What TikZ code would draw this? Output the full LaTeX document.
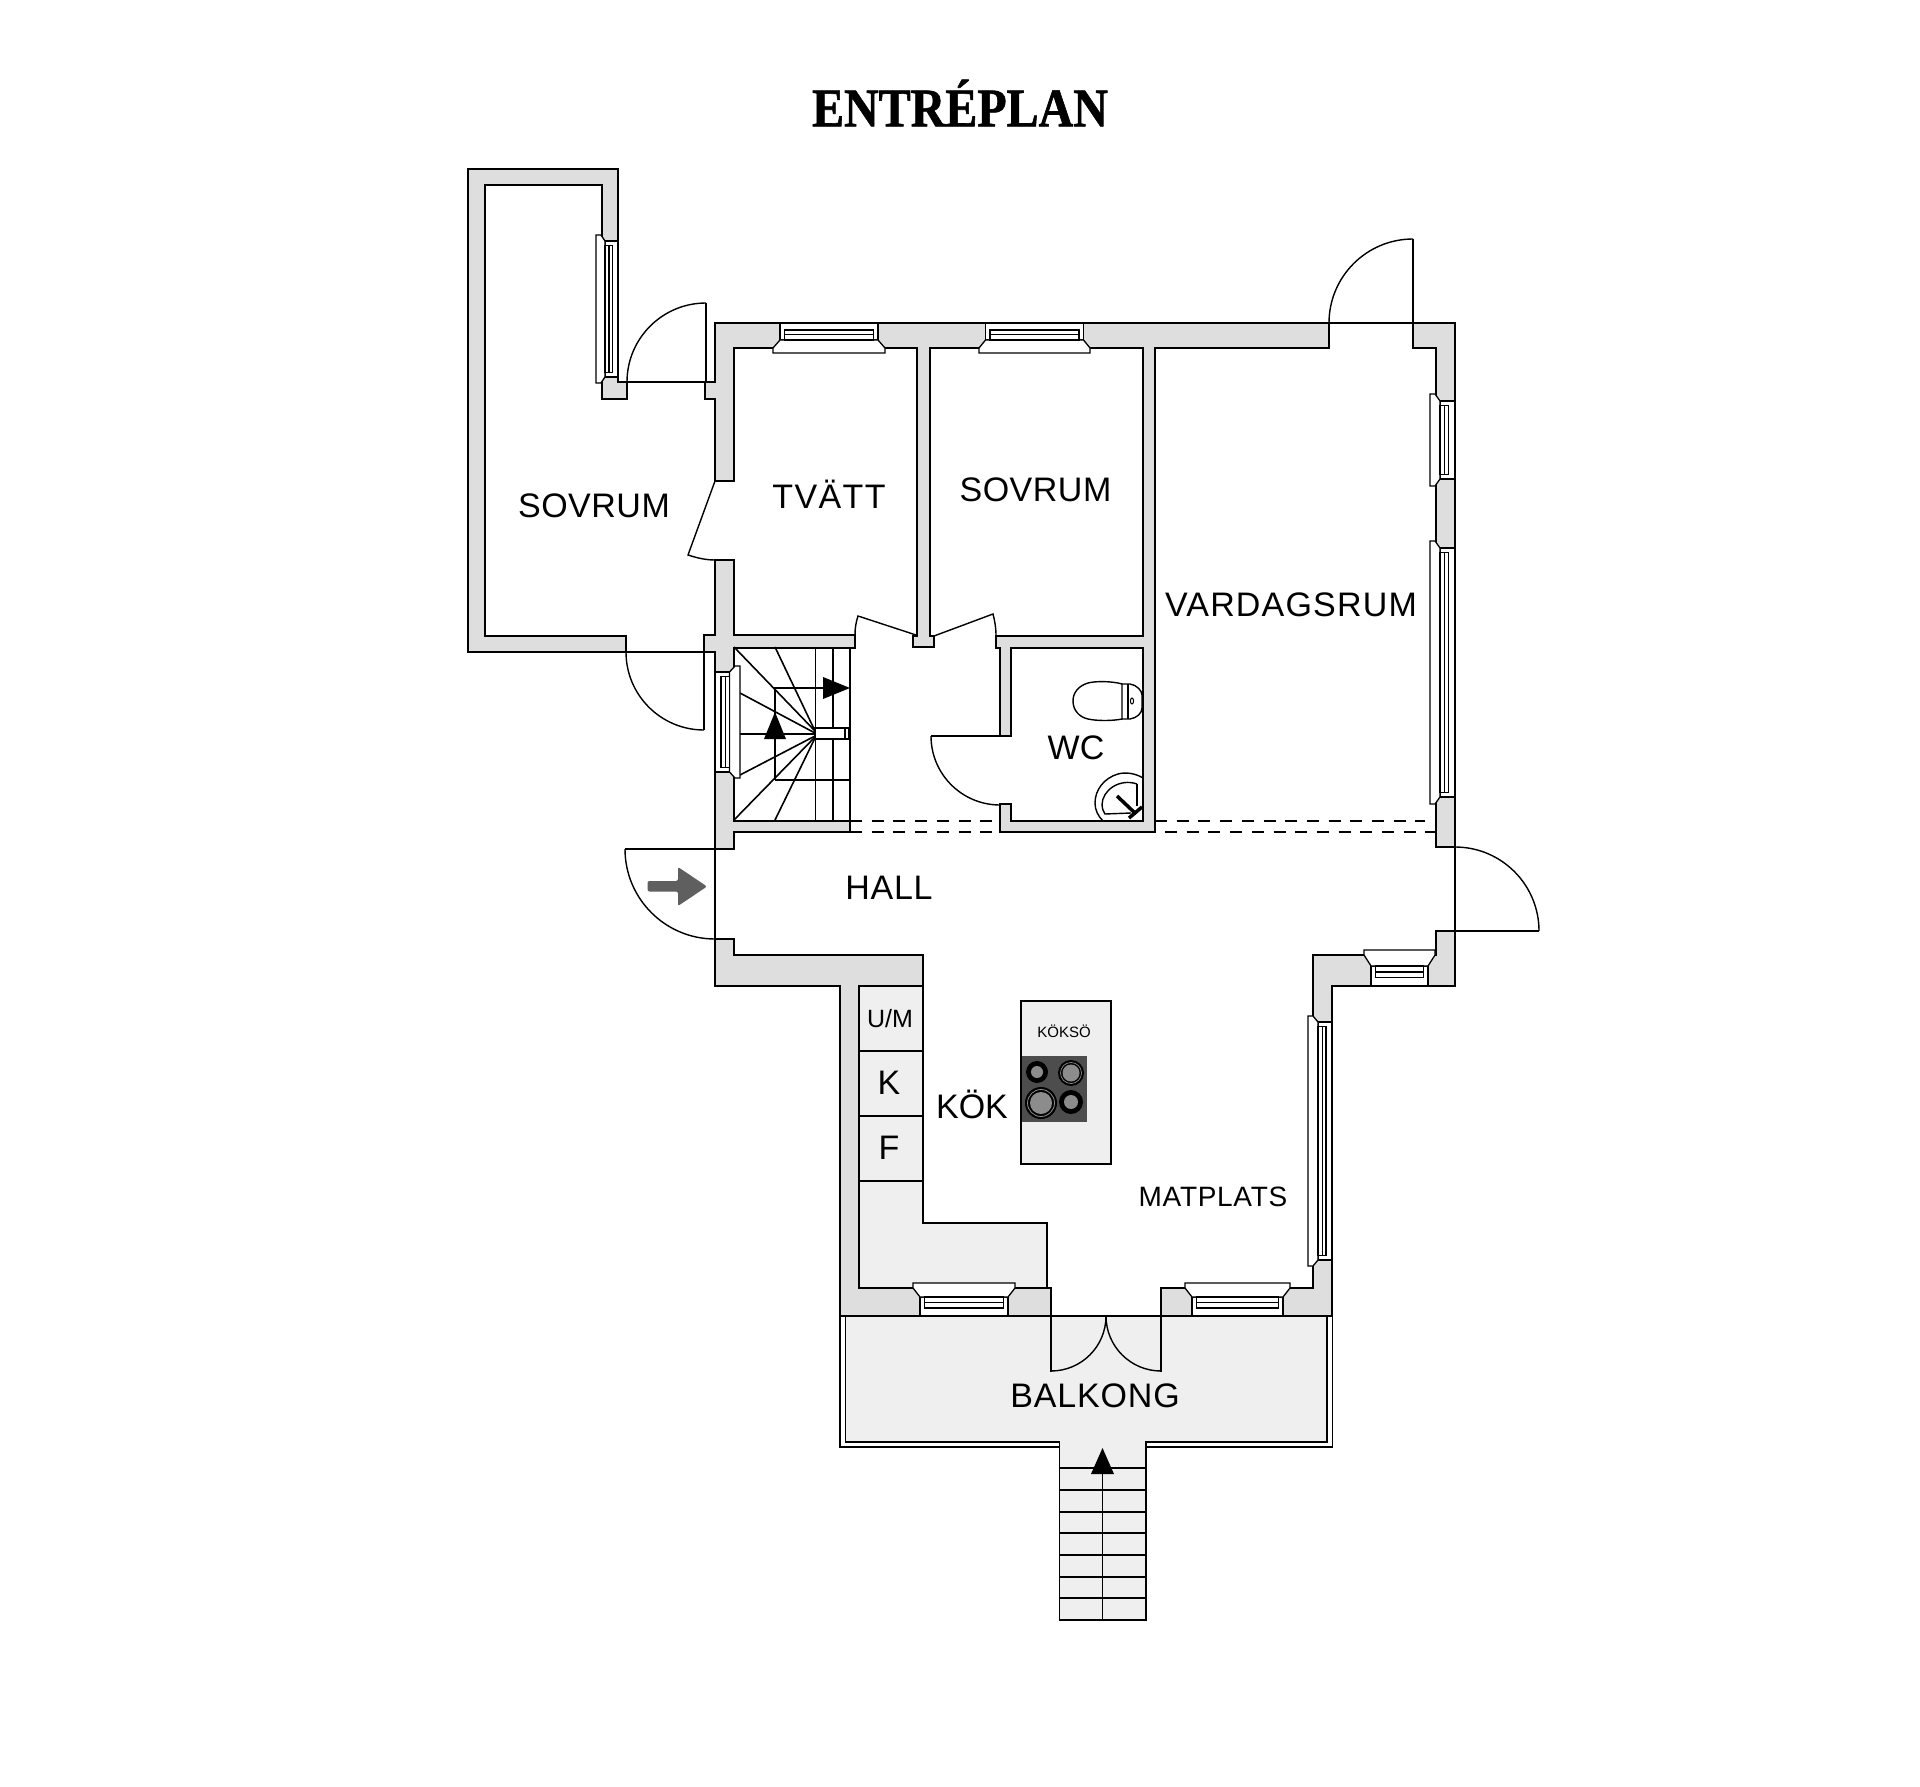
\documentclass[tikz,border=0pt]{standalone}
\usepackage{fontspec}
\setmainfont{Liberation Sans}
\newfontfamily\titlefont[FakeBold=1.2]{Liberation Serif Bold}
\definecolor{wallc}{HTML}{DEDEDE}
\definecolor{floorc}{HTML}{EFEFEF}
\definecolor{hobc}{HTML}{4D4D4D}
\definecolor{burnc}{HTML}{8C8C8C}
\definecolor{arrowc}{HTML}{5F5F5F}
\tikzset{
  wall/.style={fill=wallc,draw=black,line width=1.5pt,line join=miter},
  floorpart/.style={fill=floorc,draw=black,line width=1.5pt},
  thinline/.style={draw=black,line width=1.4pt},
  winline/.style={draw=black,line width=1.3pt,fill=white},
  stairline/.style={draw=black,line width=1.6pt},
  dashline/.style={draw=black,line width=1.2pt,dash pattern=on 12pt off 9.7pt},
  solidhead/.style={fill=black,draw=none},
  room/.style={inner sep=0pt,font=\fontsize{34}{40}\selectfont},
  winS/.style={x={(1pt,0pt)},y={(0pt,-1pt)}},
  winN/.style={x={(1pt,0pt)},y={(0pt,1pt)}},
  winW/.style={x={(0pt,-1pt)},y={(-1pt,0pt)}},
  winE/.style={x={(0pt,-1pt)},y={(1pt,0pt)}},
}
% window: origin x, origin y, orientation, length, body depth, cover depth, flare
\newcommand\fenster[7]{%
  \begin{scope}[shift={(#1,#2)},#3]
    \path[winline] (0,0) rectangle (#4,#5);
    \path[winline] (0,#5) -- (-#7,{#6-5}) -- (-#7,#6) -- ({#4+#7},#6) -- ({#4+#7},{#6-5}) -- (#4,#5) -- cycle;
    \path[winline] (4.5,{#5*.42}) rectangle ({#4-4.5},#5);
    \draw[draw=black,line width=1.2pt] (4.5,{#5*.7}) -- ({#4-4.5},{#5*.7});
  \end{scope}}
% door swing: centre x, centre y, radius, start direction, end direction
\newcommand\swing[7]{%
  \draw[thinline] ({#1+#3*#4},{#2+#3*#5}) .. controls ({#1+#3*#4+.5523*#3*#6},{#2+#3*#5+.5523*#3*#7}) and ({#1+#3*#6+.5523*#3*#4},{#2+#3*#7+.5523*#3*#5}) .. ({#1+#3*#6},{#2+#3*#7});}
\begin{document}
\begin{tikzpicture}[x=1pt,y=-1pt]
\useasboundingbox (0,0) rectangle (1920,1787);
\fill[white] (0,0) rectangle (1920,1787);

% balcony and outer stairs
\draw[thinline,fill=white] (840,1316) -- (840,1447) -- (1332.5,1447) -- (1332.5,1316) -- cycle;
\draw[floorpart] (845.5,1316) -- (845.5,1442) -- (1059.5,1442) -- (1059.5,1620) -- (1146,1620) -- (1146,1442) -- (1327,1442) -- (1327,1316) -- cycle;
\foreach \yy in {1468,1490,1512,1533,1555,1577,1598} \draw[stairline] (1059.5,\yy) -- (1146,\yy);
\draw[stairline] (1102.5,1470) -- (1102.5,1620);
\fill[solidhead] (1102.5,1448) -- (1114,1474) -- (1091,1474) -- cycle;

% kitchen counter
\draw[floorpart] (859,986) -- (923,986) -- (923,1223) -- (1047,1223) -- (1047,1288) -- (859,1288) -- cycle;
\foreach \yy in {1051,1116,1181} \draw[thinline] (859,\yy) -- (923,\yy);

% kitchen island
\draw[floorpart] (1021,1001) rectangle (1111,1164);
\fill[hobc] (1022,1056) rectangle (1087,1122);
\fill[black] (1037,1072) circle [radius=11];
\fill[burnc] (1037,1072) circle [radius=6];
\fill[black] (1071,1073) circle [radius=13];
\draw[burnc,line width=.7pt] (1071,1073) circle [radius=10.5];
\fill[burnc] (1071,1073) circle [radius=8.5];
\fill[black] (1041,1103) circle [radius=16];
\draw[burnc,line width=.8pt] (1041,1103) circle [radius=13.5];
\fill[burnc] (1041,1103) circle [radius=11];
\fill[black] (1071,1102) circle [radius=12];
\fill[burnc] (1071,1102) circle [radius=7];

% walls
\draw[wall] (468,169) -- (618,169) -- (618,241) -- (602,241) -- (602,185) -- (485,185) -- (485,636) -- (626,636) -- (626,652) -- (468,652) -- cycle;
\draw[wall] (602,377) -- (618,377) -- (618,382) -- (627,382) -- (627,399) -- (602,399) -- cycle;
\draw[wall] (715,323) -- (1329,323) -- (1329,348) -- (1155,348) -- (1155,832) -- (1000,832) -- (1000,804) -- (1011,804) -- (1011,821) -- (1143,821) -- (1143,648) -- (1011,648) -- (1011,736) -- (1000,736) -- (1000,648) -- (996,648) -- (996,636) -- (1143,636) -- (1143,348) -- (930,348) -- (930,636) -- (934,636) -- (934,647) -- (913,647) -- (913,636) -- (917,636) -- (917,348) -- (734,348) -- (734,481) -- (715,481) -- (715,399) -- (705,399) -- (705,382) -- (715,382) -- cycle;
\draw[wall] (1413,323) -- (1455,323) -- (1455,847) -- (1436,847) -- (1436,348) -- (1413,348) -- cycle;
\draw[wall] (715,560) -- (734,560) -- (734,635) -- (855,635) -- (855,648) -- (734,648) -- (734,821) -- (850,821) -- (850,832) -- (734,832) -- (734,849) -- (715,849) -- (715,652) -- (704,652) -- (704,635) -- (715,635) -- cycle;
\draw[wall] (715,939) -- (734,939) -- (734,955) -- (923,955) -- (923,986) -- (859,986) -- (859,1288) -- (1051,1288) -- (1051,1316) -- (840,1316) -- (840,986) -- (715,986) -- cycle;
\draw[wall] (1161,1288) -- (1313,1288) -- (1313,955) -- (1436,955) -- (1436,931) -- (1455,931) -- (1455,986) -- (1332,986) -- (1332,1316) -- (1161,1316) -- cycle;

% inner stairs
\foreach \ax/\ay/\by in {734/647/731,775/647/731,740/693/733,740/734/734,740/775/736,734/820/737,775/820/738}
  \draw[stairline] (\ax,\ay) -- (815,\by);
\foreach \xx in {815.5,833} {\draw[stairline] (\xx,648) -- (\xx,728); \draw[stairline] (\xx,739) -- (\xx,821);}
\draw[stairline] (775,780) -- (850,780);
\draw[stairline] (823,688) -- (775,688) -- (775,780);
\draw[stairline] (815,728) rectangle (849,739);
\draw[stairline] (845,728) -- (845,739);
\draw[line width=1.8pt] (850,648) -- (850,821);
\fill[solidhead] (850,688) -- (823,677) -- (823,699) -- cycle;
\fill[solidhead] (775,712) -- (786,739) -- (764,739) -- cycle;

% windows
\fenster{618}{241}{winW}{136}{13}{22}{6}
\fenster{780}{323}{winS}{98}{17}{30}{7}
\fenster{985.5}{323}{winS}{98}{17}{30}{6.5}
\fenster{1455}{401}{winW}{78}{15}{25}{7}
\fenster{1455}{548}{winW}{249}{15}{25}{7}
\fenster{715}{672}{winE}{100}{14.5}{25}{6}
\fenster{1371}{986}{winN}{57}{20}{36}{7}
\fenster{1332}{1022}{winW}{238}{14}{24}{6}
\fenster{920}{1316}{winN}{88}{19}{33}{7}
\fenster{1192}{1316}{winN}{91}{19}{33}{7}

% dashed lines
\draw[dashline] (850,821) -- (1000,821);
\draw[dashline] (850,832) -- (1000,832);
\draw[dashline] (1155,821) -- (1425,821);
\draw[dashline] (1165,832) -- (1436,832);

% doors
\draw[thinline] (627,382) -- (706,382) -- (706,303);
\swing{706}{382}{79}{-1}{0}{0}{-1}
\draw[thinline] (1329,323) -- (1413,323) -- (1413,239);
\swing{1413}{323}{84}{-1}{0}{0}{-1}
\draw[thinline] (626,652) -- (704,652) -- (704,730);
\swing{704}{652}{78}{-1}{0}{0}{1}
\draw[thinline] (625,849) -- (715,849) -- (715,939);
\swing{715}{849}{90}{-1}{0}{0}{1}
\draw[thinline] (931,736) -- (1000,736);
\swing{1000}{736}{69}{-1}{0}{0}{1}
\draw[thinline] (1539,931) -- (1455,931) -- (1455,847);
\swing{1455}{931}{84}{0}{-1}{1}{0}
\draw[thinline] (840,1316) -- (1332.5,1316);
\draw[thinline] (1051,1316) -- (1051,1372);
\swing{1051}{1316}{55}{0}{1}{1}{0}
\draw[thinline] (1161,1316) -- (1161,1372);
\swing{1161}{1316}{55}{0}{1}{-1}{0}
\draw[thinline] (715,481) -- (688,555) .. controls (697,558) and (706,560) .. (715,560);
\draw[thinline] (916,635) -- (858,616) .. controls (856,622) and (855,628) .. (855,635);
\draw[thinline] (934,636) -- (993,614) .. controls (995,622) and (996,628) .. (996,636);

% arrow at the entrance
\fill[arrowc,rounded corners=2pt] (647.5,881) -- (678,881) -- (678,867) -- (707,886.5) -- (678,906) -- (678,891.5) -- (647.5,891.5) -- cycle;

% toilet
\draw[thinline] (1122,684) .. controls (1112,681) and (1095,681) .. (1088,683) .. controls (1078,686) and (1073,693) .. (1073,701) .. controls (1073,710) and (1079,717) .. (1088,719) .. controls (1097,721) and (1112,721) .. (1122,719) -- cycle;
\draw[thinline] (1122,684) -- (1130,684) .. controls (1137,685) and (1142,691) .. (1142,695) -- (1142,708) .. controls (1142,713) and (1137,718) .. (1130,719) -- (1122,719);
\draw[thinline] (1128,684) -- (1128,719);
\draw[line width=1pt] (1132,701) ellipse [x radius=1.6,y radius=3];
% sink
\draw[thinline] (1143,778) .. controls (1135,773) and (1125,772) .. (1118,774) .. controls (1104,778) and (1095,790) .. (1095,803) .. controls (1095,810) and (1098,816) .. (1103,821);
\draw[thinline] (1137,784) .. controls (1120,778) and (1102,790) .. (1102,805) .. controls (1102,808) and (1103,811) .. (1105,814) -- (1131,813);
\draw[thinline] (1137,784) -- (1137,806);
\draw[line width=3.5pt] (1117,796) -- (1136,814);
\draw[line width=3.5pt] (1129,818) -- (1142,807);

% labels
\node[room] (sovrumA) at (594,506) {\addfontfeature{LetterSpace=1.5}SOVRUM};
\node[room] (tvatt) at (829,494) {\addfontfeature{LetterSpace=4}TVÄTT};
\node[room] (sovrumB) at (1035.5,490) {\addfontfeature{LetterSpace=1.5}SOVRUM};
\node[room] (vardag) at (1291,605) {\addfontfeature{LetterSpace=3.5}VARDAGSRUM};
\node[room] (wc) at (1076,748) {WC};
\node[room] (hall) at (889,888) {\addfontfeature{LetterSpace=2}HALL};
\node[room] (balkong) at (1095,1396) {\addfontfeature{LetterSpace=2.5}BALKONG};
\node[room] (kok) at (972,1104.5) {KÖK};
\node[inner sep=0pt,font=\fontsize{28}{32}\selectfont] (matplats) at (1213,1197) {\addfontfeature{LetterSpace=2.5}MATPLATS};
\node[inner sep=0pt,font=\fontsize{15}{18}\selectfont] (koksoe) at (1064,1031) {KÖKSÖ};
\node[inner sep=0pt,font=\fontsize{25}{28}\selectfont] (um) at (890,1019) {U/M};
\node[room] (k) at (889,1083) {K};
\node[room] (f) at (889,1148) {F};
\node[inner sep=0pt,transform shape,xscale=.88,font=\fontsize{54.5}{60}\selectfont\titlefont] (title) at (960,103) {ENTRÉPLAN};
\end{tikzpicture}
\end{document}
